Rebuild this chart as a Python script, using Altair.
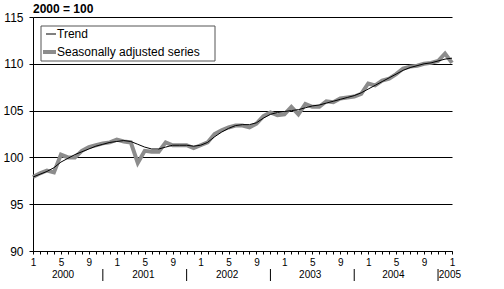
import altair as alt
import pandas as pd

# months since Jan 2000 (0 .. 60 = Jan 2005)
months = list(range(61))
seasonally_adjusted = [
    97.9, 98.3, 98.6, 98.4, 100.3, 100.0, 100.0, 100.7, 101.1, 101.3,
    101.5, 101.6, 101.9, 101.7, 101.6, 99.4, 100.7, 100.6, 100.6, 101.6,
    101.3, 101.3, 101.3, 101.0, 101.3, 101.6, 102.5, 102.9, 103.2, 103.4,
    103.4, 103.2, 103.6, 104.4, 104.8, 104.5, 104.6, 105.4, 104.6, 105.7,
    105.4, 105.4, 106.0, 105.9, 106.3, 106.4, 106.5, 106.8, 107.9, 107.7,
    108.2, 108.4, 108.9, 109.5, 109.7, 109.8, 110.0, 110.1, 110.3, 111.1, 110.1,
]
trend = [
    97.9, 98.2, 98.5, 98.9, 99.5, 99.9, 100.3, 100.6, 100.9, 101.2,
    101.4, 101.6, 101.7, 101.8, 101.7, 101.4, 101.1, 100.9, 100.9, 101.1,
    101.3, 101.3, 101.3, 101.2, 101.3, 101.6, 102.2, 102.7, 103.1, 103.4,
    103.5, 103.5, 103.7, 104.2, 104.6, 104.8, 104.9, 105.0, 105.1, 105.3,
    105.5, 105.6, 105.8, 106.0, 106.2, 106.4, 106.6, 106.9, 107.3, 107.7,
    108.1, 108.5, 108.9, 109.3, 109.6, 109.8, 110.0, 110.1, 110.3, 110.5, 110.6,
]
year_labels = ["2000", "2001", "2002", "2003", "2004", "2005"]
year_positions = [4.3, 15.8, 27.8, 39.7, 51.6, 59.7]
separator_positions = [10, 22, 34, 46, 58]
y_ticks = [90, 95, 100, 105, 110, 115]

FONT = "Liberation Sans"

df = pd.DataFrame({"m": months, "sa": seasonally_adjusted, "trend": trend})
years_df = pd.DataFrame({"pos": year_positions, "label": year_labels})
sep_df = pd.DataFrame({"pos": separator_positions})
one = pd.DataFrame({"a": [0]})

xscale = alt.Scale(domain=[0, 60], nice=False, zero=False)
yscale = alt.Scale(domain=[90, 115], nice=False, zero=False)

x_axis = alt.Axis(
    values=months,
    labelExpr="(datum.value % 12 == 0 || datum.value % 12 == 4 || datum.value % 12 == 8) ? toString(datum.value % 12 + 1) : ''",
    grid=False, tickSize=3, tickColor="black", domainColor="black",
    labelFont=FONT, labelFontSize=10, labelColor="black", labelPadding=3,
    labelOverlap=False, labelFlush=False, title=None,
)
y_axis = alt.Axis(
    values=y_ticks, grid=True, gridColor="black", gridOpacity=1, gridWidth=1,
    tickSize=4, tickColor="black", domainColor="black",
    labelFont=FONT, labelFontSize=12, labelColor="black", labelPadding=6,
    title=None,
)

sa_line = alt.Chart(df).mark_line(color="#8c8c8c", strokeWidth=4).encode(
    x=alt.X("m:Q", scale=xscale, axis=x_axis),
    y=alt.Y("sa:Q", scale=yscale, axis=y_axis),
)
trend_line = alt.Chart(df).mark_line(color="black", strokeWidth=1).encode(
    x=alt.X("m:Q", scale=xscale, axis=x_axis),
    y=alt.Y("trend:Q", scale=yscale, axis=y_axis),
)

year_text = alt.Chart(years_df).mark_text(
    font=FONT, fontSize=10, color="black", align="center", baseline="middle"
).encode(
    x=alt.X("pos:Q", scale=xscale, axis=x_axis),
    y=alt.value(258),
    text="label:N",
)
separators = alt.Chart(sep_df).mark_rule(color="black", strokeWidth=1).encode(
    x=alt.X("pos:Q", scale=xscale, axis=x_axis),
    y=alt.value(252),
    y2=alt.value(264),
)

title_text = alt.Chart(one).mark_text(
    text="2000 = 100", font=FONT, fontSize=12, fontWeight="bold",
    color="black", align="left", baseline="middle"
).encode(x=alt.value(0), y=alt.value(-8))

legend_box = alt.Chart(one).mark_rect(
    fill="white", stroke="#555555", strokeWidth=1
).encode(x=alt.value(8), x2=alt.value(182), y=alt.value(9), y2=alt.value(44))
legend_trend = alt.Chart(one).mark_rule(color="black", strokeWidth=1).encode(
    x=alt.value(13), x2=alt.value(23), y=alt.value(17)
)
legend_sa = alt.Chart(one).mark_rule(color="#8c8c8c", strokeWidth=4).encode(
    x=alt.value(10), x2=alt.value(23), y=alt.value(35)
)
legend_t1 = alt.Chart(one).mark_text(
    text="Trend", font=FONT, fontSize=12, color="black", align="left", baseline="middle"
).encode(x=alt.value(24), y=alt.value(17))
legend_t2 = alt.Chart(one).mark_text(
    text="Seasonally adjusted series", font=FONT, fontSize=12, color="black",
    align="left", baseline="middle"
).encode(x=alt.value(24), y=alt.value(35))

chart = alt.layer(
    sa_line, trend_line, year_text, separators, title_text,
    legend_box, legend_trend, legend_sa, legend_t1, legend_t2,
).properties(
    width=419, height=234,
    autosize=alt.AutoSizeParams(type="none"),
    padding={"left": 33, "top": 17, "right": 52, "bottom": 38},
    background="white",
).configure_view(stroke=None)

chart.save("out.html", embed_options={"renderer": "svg", "actions": False})
